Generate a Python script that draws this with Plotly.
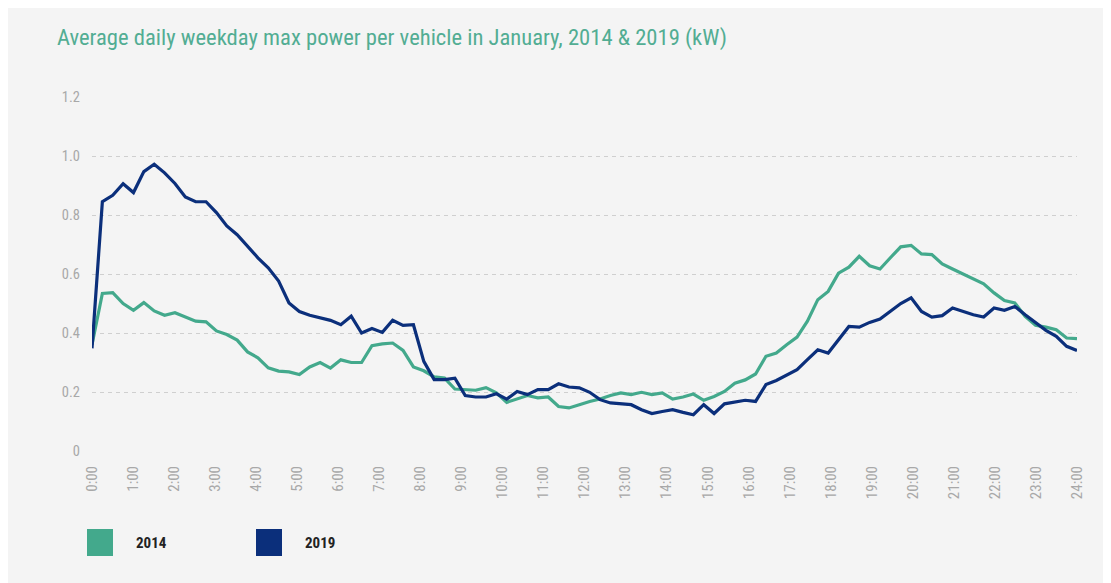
import plotly.graph_objects as go

# ---------------- data ----------------
title_text = "Average daily weekday max power per vehicle in January, 2014 & 2019 (kW)"
hour_labels = [f"{h}:00" for h in range(25)]
y_ticks = [0, 0.2, 0.4, 0.6, 0.8, 1.0, 1.2]
y_tick_labels = ["0", "0.2", "0.4", "0.6", "0.8", "1.0", "1.2"]

# 15-minute samples (96 per day)
power_2014 = [
    0.360, 0.534, 0.537, 0.500, 0.477, 0.503, 0.475, 0.460, 0.469, 0.455, 0.440, 0.438,
    0.407, 0.395, 0.376, 0.336, 0.316, 0.282, 0.271, 0.268, 0.259, 0.285, 0.300, 0.281,
    0.309, 0.300, 0.300, 0.357, 0.363, 0.366, 0.341, 0.285, 0.272, 0.251, 0.247, 0.210,
    0.208, 0.206, 0.215, 0.197, 0.165, 0.176, 0.188, 0.180, 0.183, 0.151, 0.146, 0.157,
    0.168, 0.176, 0.188, 0.197, 0.191, 0.199, 0.191, 0.197, 0.176, 0.183, 0.193, 0.172,
    0.185, 0.202, 0.230, 0.241, 0.261, 0.321, 0.332, 0.360, 0.386, 0.440, 0.513, 0.541,
    0.603, 0.623, 0.660, 0.628, 0.617, 0.655, 0.692, 0.697, 0.668, 0.666, 0.634, 0.617,
    0.601, 0.583, 0.567, 0.536, 0.510, 0.502, 0.456, 0.426, 0.420, 0.411, 0.383, 0.381,
]
power_2019 = [
    0.348, 0.845, 0.867, 0.906, 0.876, 0.947, 0.972, 0.943, 0.907, 0.861, 0.845, 0.845,
    0.808, 0.763, 0.733, 0.693, 0.655, 0.621, 0.576, 0.502, 0.473, 0.460, 0.451, 0.443,
    0.428, 0.457, 0.400, 0.415, 0.402, 0.443, 0.426, 0.428, 0.304, 0.242, 0.242, 0.247,
    0.188, 0.183, 0.183, 0.194, 0.176, 0.202, 0.191, 0.208, 0.208, 0.228, 0.217, 0.214,
    0.199, 0.174, 0.163, 0.159, 0.157, 0.140, 0.127, 0.134, 0.140, 0.131, 0.123, 0.157,
    0.127, 0.160, 0.165, 0.172, 0.168, 0.225, 0.239, 0.256, 0.276, 0.310, 0.343, 0.332,
    0.377, 0.422, 0.420, 0.436, 0.447, 0.475, 0.500, 0.519, 0.473, 0.454, 0.459, 0.485,
    0.473, 0.462, 0.454, 0.485, 0.477, 0.490, 0.462, 0.434, 0.409, 0.389, 0.355, 0.341,
]
series_names = ["2014", "2019"]
series_values = [power_2014, power_2019]
series_colors = ["#43a98c", "#0b2f7b"]

# ---------------- figure ----------------
# page body adds an 8px offset; figure fills the rest of the window
W, H = 1103, 575
ML, MR, MT, MB = 84, 34, 89, 132
PW, PH = W - ML - MR, H - MT - MB

def px_x(px):
    return (px - ML) / PW

def px_y(py):
    return (H - MB - py) / PH

FONT = "Liberation Sans Narrow, Roboto Condensed, DejaVu Sans Condensed, Roboto, sans-serif"

n = len(power_2014)
xs = [i * 24 / (n - 1) for i in range(n)]

fig = go.Figure()
for name, vals, col in zip(series_names, series_values, series_colors):
    fig.add_trace(go.Scatter(
        x=xs, y=vals, mode="lines", name=name,
        line=dict(color=col, width=3.2), showlegend=False,
    ))

shapes = []
annotations = []
legend_x = [79, 248]
for k, (name, col) in enumerate(zip(series_names, series_colors)):
    x0 = legend_x[k]
    shapes.append(dict(type="rect", xref="paper", yref="paper",
                       x0=px_x(x0), x1=px_x(x0 + 26), y0=px_y(548), y1=px_y(521),
                       fillcolor=col, line=dict(width=0)))
    annotations.append(dict(xref="paper", yref="paper", x=px_x(x0 + 47), y=px_y(535),
                            xanchor="left", yanchor="middle", showarrow=False,
                            text=f"<b>{name}</b>",
                            font=dict(family=FONT, size=15, color="#222222")))

fig.update_layout(
    width=W, height=H,
    margin=dict(l=ML, r=MR, t=MT, b=MB, pad=0),
    paper_bgcolor="#f4f4f4",
    plot_bgcolor="rgba(0,0,0,0)",
    title=dict(text=title_text, x=49 / W, xref="container", xanchor="left",
               y=1 - 29 / H, yref="container", yanchor="middle",
               font=dict(family=FONT, size=22.6, color="#52ad93")),
    xaxis=dict(range=[0, 24], tickvals=list(range(25)), ticktext=hour_labels,
               tickangle=-90, showgrid=False, zeroline=False, showline=False,
               ticks="", ticklabelstandoff=11,
               tickfont=dict(family=FONT, size=15, color="#a8a8a8")),
    yaxis=dict(range=[0, 1.2], tickvals=y_ticks, ticktext=y_tick_labels,
               showgrid=True, gridcolor="#cfcfcf", gridwidth=1, griddash="4px,4px",
               zeroline=False, showline=False, ticks="", ticklabelstandoff=11,
               tickfont=dict(family=FONT, size=14.5, color="#a8a8a8")),
    shapes=shapes,
    annotations=annotations,
)

fig.write_html("out.html")
